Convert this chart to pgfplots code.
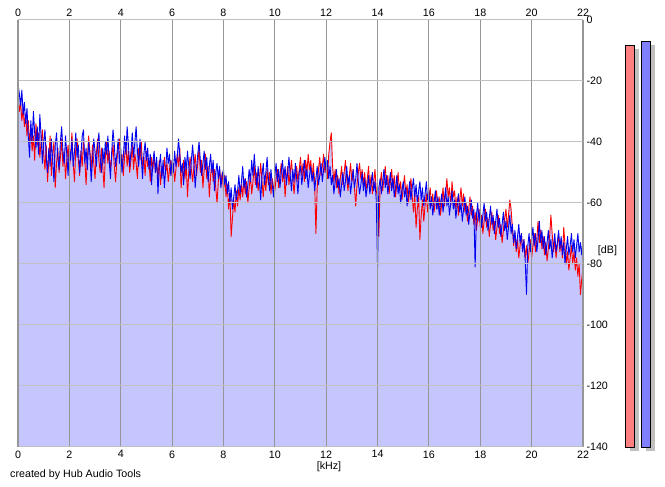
\documentclass[border=0pt]{standalone}
\usepackage{pgfplots}
\pgfplotsset{compat=1.18}
\usepackage{pgfplotstable}
\usetikzlibrary{shadows}
\usepackage{fontspec}
\setmainfont{Liberation Sans}
\definecolor{lav}{RGB}{198,198,255}
\definecolor{meterred}{RGB}{255,128,128}
\definecolor{meterblue}{RGB}{128,128,255}
\definecolor{lred}{RGB}{255,0,0}
\definecolor{lblue}{RGB}{0,0,240}
\definecolor{vgrid}{RGB}{150,150,150}
\definecolor{vgridmajor}{RGB}{128,128,128}
\definecolor{hgrid}{RGB}{192,192,192}
\definecolor{shadowgray}{RGB}{192,192,192}
\pgfplotstableread{
x b r
0.00 -21 -26
0.05 -24 -30
0.10 -28 -27
0.15 -23 -33
0.20 -31 -29
0.25 -27 -35
0.30 -34 -31
0.35 -29 -38
0.40 -38 -33
0.45 -45 -40
0.50 -33 -36
0.55 -40 -43
0.60 -30 -38
0.65 -37 -46
0.70 -42 -34
0.75 -35 -41
0.80 -44 -37
0.85 -31 -45
0.90 -38 -40
0.95 -47 -36
1.00 -40 -44
1.05 -36 -49
1.10 -45 -41
1.15 -50 -53
1.20 -42 -46
1.25 -48 -38
1.30 -39 -51
1.35 -46 -44
1.40 -53 -40
1.45 -41 -55
1.50 -37 -47
1.55 -45 -42
1.60 -49 -50
1.65 -40 -45
1.70 -35 -39
1.75 -43 -48
1.80 -47 -43
1.85 -38 -52
1.90 -44 -46
1.95 -51 -41
2.00 -42 -49
2.05 -46 -44
2.10 -39 -37
2.15 -48 -47
2.20 -43 -53
2.25 -37 -42
2.30 -45 -39
2.35 -41 -46
2.40 -50 -51
2.45 -44 -43
2.50 -38 -48
2.55 -36 -40
2.60 -47 -45
2.65 -42 -54
2.70 -49 -46
2.75 -40 -38
2.80 -44 -43
2.85 -53 -49
2.90 -46 -41
2.95 -39 -47
3.00 -43 -52
3.05 -48 -44
3.10 -41 -39
3.15 -37 -46
3.20 -45 -50
3.25 -50 -42
3.30 -42 -48
3.35 -47 -55
3.40 -40 -45
3.45 -44 -40
3.50 -38 -47
3.55 -46 -43
3.60 -52 -49
3.65 -43 -45
3.70 -36 -41
3.75 -41 -48
3.80 -48 -53
3.85 -44 -46
3.90 -39 -42
3.95 -47 -39
4.00 -42 -47
4.05 -50 -44
4.10 -45 -51
4.15 -38 -45
4.20 -44 -40
4.25 -35 -48
4.30 -41 -43
4.35 -48 -50
4.40 -43 -46
4.45 -37 -41
4.50 -45 -49
4.55 -40 -44
4.60 -35 -47
4.65 -43 -52
4.70 -48 -42
4.75 -39 -46
4.80 -45 -40
4.85 -52 -48
4.90 -44 -45
4.95 -40 -51
5.00 -46 -43
5.05 -42 -48
5.10 -49 -46
5.15 -44 -53
5.20 -54 -45
5.25 -47 -49
5.30 -43 -44
5.35 -50 -50
5.40 -45 -47
5.45 -57 -52
5.50 -48 -46
5.55 -44 -54
5.60 -52 -48
5.65 -46 -51
5.70 -55 -45
5.75 -49 -50
5.80 -42 -47
5.85 -47 -53
5.90 -44 -49
5.95 -51 -46
6.00 -46 -51
6.05 -50 -47
6.10 -43 -53
6.15 -48 -49
6.20 -45 -44
6.25 -39 -48
6.30 -44 -42
6.35 -50 -55
6.40 -47 -50
6.45 -54 -46
6.50 -45 -52
6.55 -49 -47
6.60 -43 -58
6.65 -48 -50
6.70 -52 -45
6.75 -46 -49
6.80 -41 -53
6.85 -47 -48
6.90 -55 -44
6.95 -49 -51
7.00 -44 -47
7.05 -40 -42
7.10 -46 -50
7.15 -51 -46
7.20 -47 -55
7.25 -43 -49
7.30 -49 -44
7.35 -45 -52
7.40 -53 -48
7.45 -48 -58
7.50 -44 -51
7.55 -50 -47
7.60 -46 -53
7.65 -56 -49
7.70 -50 -55
7.75 -47 -60
7.80 -52 -53
7.85 -48 -49
7.90 -55 -54
7.95 -51 -50
8.00 -49 -56
8.05 -54 -51
8.10 -51 -58
8.15 -57 -54
8.20 -53 -62
8.25 -60 -57
8.30 -55 -71
8.35 -62 -65
8.40 -58 -59
8.45 -54 -63
8.50 -59 -56
8.55 -56 -61
8.60 -51 -55
8.65 -57 -59
8.70 -53 -54
8.75 -48 -58
8.80 -55 -52
8.85 -52 -57
8.90 -58 -53
8.95 -54 -60
9.00 -49 -55
9.05 -53 -51
9.10 -46 -57
9.15 -51 -53
9.20 -44 -48
9.25 -50 -54
9.30 -55 -50
9.35 -48 -56
9.40 -53 -52
9.45 -59 -47
9.50 -51 -53
9.55 -47 -58
9.60 -54 -51
9.65 -50 -56
9.70 -45 -49
9.75 -52 -54
9.80 -56 -50
9.85 -49 -57
9.90 -54 -52
9.95 -58 -55
10.00 -51 -56
10.05 -47 -52
10.10 -53 -49
10.15 -49 -55
10.20 -55 -51
10.25 -50 -47
10.30 -46 -53
10.35 -52 -49
10.40 -48 -58
10.45 -54 -52
10.50 -50 -48
10.55 -45 -54
10.60 -51 -50
10.65 -56 -46
10.70 -49 -52
10.75 -53 -57
10.80 -47 -51
10.85 -52 -48
10.90 -57 -53
10.95 -50 -49
11.00 -48 -45
11.05 -54 -51
11.10 -50 -47
11.15 -46 -53
11.20 -52 -46
11.25 -49 -50
11.30 -55 -44
11.35 -51 -49
11.40 -48 -46
11.45 -53 -52
11.50 -50 -47
11.55 -56 -53
11.60 -52 -70
11.65 -48 -55
11.70 -54 -49
11.75 -51 -45
11.80 -47 -51
11.85 -53 -48
11.90 -49 -44
11.95 -45 -50
12.00 -50 -47
12.05 -46 -52
12.10 -52 -44
12.15 -48 -40
12.20 -54 -37
12.25 -51 -48
12.30 -57 -53
12.35 -53 -49
12.40 -49 -55
12.45 -55 -51
12.50 -52 -57
12.55 -58 -52
12.60 -54 -48
12.65 -50 -54
12.70 -56 -50
12.75 -53 -46
12.80 -48 -52
12.85 -54 -56
12.90 -51 -51
12.95 -57 -47
13.00 -53 -53
13.05 -49 -49
13.10 -55 -55
13.15 -52 -61
13.20 -47 -54
13.25 -53 -50
13.30 -57 -47
13.35 -54 -52
13.40 -50 -49
13.45 -56 -54
13.50 -52 -50
13.55 -58 -56
13.60 -55 -52
13.65 -51 -48
13.70 -57 -55
13.75 -54 -51
13.80 -50 -57
13.85 -56 -53
13.90 -53 -49
13.95 -59 -56
14.00 -81 -58
14.05 -55 -71
14.10 -52 -54
14.15 -57 -50
14.20 -53 -56
14.25 -49 -52
14.30 -55 -48
14.35 -51 -54
14.40 -57 -51
14.45 -54 -57
14.50 -50 -53
14.55 -56 -49
14.60 -52 -55
14.65 -58 -51
14.70 -55 -58
14.75 -51 -54
14.80 -57 -50
14.85 -54 -56
14.90 -60 -53
14.95 -56 -59
15.00 -53 -55
15.05 -58 -51
15.10 -55 -57
15.15 -61 -54
15.20 -57 -60
15.25 -53 -56
15.30 -59 -52
15.35 -55 -58
15.40 -52 -63
15.45 -58 -57
15.50 -54 -68
15.55 -60 -62
15.60 -56 -58
15.65 -53 -72
15.70 -59 -64
15.75 -55 -59
15.80 -61 -66
15.85 -57 -61
15.90 -53 -57
15.95 -59 -63
16.00 -56 -59
16.05 -62 -55
16.10 -58 -61
16.15 -64 -57
16.20 -60 -63
16.25 -56 -59
16.30 -62 -56
16.35 -58 -62
16.40 -64 -58
16.45 -60 -64
16.50 -57 -60
16.55 -63 -55
16.60 -59 -61
16.65 -55 -57
16.70 -61 -52
16.75 -58 -58
16.80 -64 -55
16.85 -60 -61
16.90 -56 -53
16.95 -62 -58
17.00 -59 -56
17.05 -65 -62
17.10 -61 -58
17.15 -57 -64
17.20 -63 -59
17.25 -60 -55
17.30 -66 -61
17.35 -62 -57
17.40 -58 -63
17.45 -64 -60
17.50 -61 -66
17.55 -67 -62
17.60 -63 -58
17.65 -59 -64
17.70 -65 -61
17.75 -62 -67
17.80 -81 -63
17.85 -64 -69
17.90 -60 -65
17.95 -66 -62
18.00 -62 -68
18.05 -68 -64
18.10 -64 -70
18.15 -60 -66
18.20 -66 -62
18.25 -63 -68
18.30 -69 -65
18.35 -65 -71
18.40 -61 -67
18.45 -67 -63
18.50 -64 -69
18.55 -70 -66
18.60 -66 -72
18.65 -62 -68
18.70 -68 -64
18.75 -65 -70
18.80 -71 -67
18.85 -67 -73
18.90 -63 -69
18.95 -69 -65
19.00 -66 -62
19.05 -72 -68
19.10 -68 -64
19.15 -64 -59
19.20 -70 -62
19.25 -67 -68
19.30 -73 -74
19.35 -69 -70
19.40 -75 -76
19.45 -71 -72
19.50 -67 -78
19.55 -73 -74
19.60 -70 -70
19.65 -76 -76
19.70 -72 -72
19.75 -79 -78
19.80 -90 -74
19.85 -74 -80
19.90 -70 -76
19.95 -76 -72
20.00 -72 -78
20.05 -68 -74
20.10 -74 -70
20.15 -70 -76
20.20 -76 -72
20.25 -72 -66
20.30 -66 -73
20.35 -73 -69
20.40 -69 -75
20.45 -75 -71
20.50 -71 -77
20.55 -77 -73
20.60 -73 -79
20.65 -69 -75
20.70 -75 -71
20.75 -72 -64
20.80 -78 -70
20.85 -74 -76
20.90 -70 -72
20.95 -76 -78
21.00 -73 -74
21.05 -69 -70
21.10 -75 -76
21.15 -71 -72
21.20 -77 -78
21.25 -73 -68
21.30 -80 -74
21.35 -75 -80
21.40 -71 -76
21.45 -77 -82
21.50 -74 -78
21.55 -70 -74
21.60 -76 -80
21.65 -72 -76
21.70 -78 -82
21.75 -74 -78
21.80 -70 -84
21.85 -76 -80
21.90 -73 -90
21.95 -77 -85
22.00 -72 -81
}\spec
\begin{document}
\begin{tikzpicture}
\useasboundingbox (0,0) rectangle (665pt,487pt);
\pgfplotsset{
  hubstyle/.style={
    at={(18pt,40pt)}, anchor=south west,
    scale only axis, width=565pt, height=427pt,
    xmin=0, xmax=22, ymin=-140, ymax=0,
    axis line style={draw=none}, major tick length=0pt,
    tick label style={font=\fontsize{10.7}{12}\selectfont},
    /pgf/number format/assume math mode=true,
  }
}
\begin{axis}[hubstyle,
  xtick={0,2,...,22}, ytick={0,-20,...,-140},
  yticklabel pos=right,
  grid=major,
  x grid style={vgrid, line width=1.1pt},
  y grid style={hgrid, line width=1pt},
  extra x ticks={0,10,20}, extra x tick labels={},
  extra x tick style={grid=major, major grid style={vgridmajor, line width=2.5pt}},
  axis on top,
]
\addplot[fill=lav, draw=none, forget plot] table[x=x,y=b]{\spec} |- (axis cs:0,-140) -- cycle;
\addplot[fill=lav, draw=none, forget plot] table[x=x,y=r]{\spec} |- (axis cs:0,-140) -- cycle;
\addplot[lred, line width=0.9pt, line join=round] table[x=x,y=r]{\spec};
\addplot[lblue, line width=0.9pt, line join=round] table[x=x,y=b]{\spec};
\end{axis}
\begin{axis}[hubstyle, xtick={0,2,...,22}, ytick=\empty, xticklabel pos=upper]
\addplot[draw=none] coordinates {(0,-140) (22,0)};
\end{axis}
\begin{axis}[at={(620pt,40pt)}, anchor=south west, scale only axis,
  width=40pt, height=427pt, xmin=0, xmax=40, ymin=0, ymax=140,
  hide axis, clip=false, ybar, bar width=8.6pt, bar shift=0pt]
\addplot[fill=meterred, draw=black, line width=0.8pt,
  drop shadow={shadow xshift=4.5pt, shadow yshift=-4pt, fill=shadowgray, draw=none, opacity=1}]
  coordinates {(10,131.8)};
\addplot[fill=meterblue, draw=black, line width=0.8pt,
  drop shadow={shadow xshift=4.5pt, shadow yshift=-4pt, fill=shadowgray, draw=none, opacity=1}]
  coordinates {(26,133)};
\end{axis}
\node[font=\fontsize{10.7}{12}\selectfont, inner sep=0pt] at (607.5pt,236pt) {[dB]};
\node[font=\fontsize{10.7}{12}\selectfont, inner sep=0pt] at (329pt,20pt) {[kHz]};
\node[font=\fontsize{10.7}{12}\selectfont, inner sep=0pt, anchor=west] at (10pt,12pt) {created by Hub Audio Tools};
\end{tikzpicture}
\end{document}
